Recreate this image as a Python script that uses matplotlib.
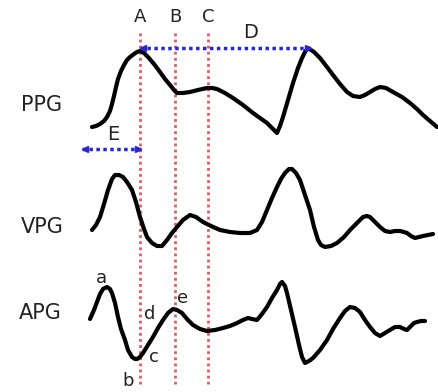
import matplotlib
matplotlib.use("Agg")
import matplotlib.pyplot as plt

# Waveform traces, in image pixel coordinates (x, y down)
PPG_X = [92, 96, 100, 104, 107, 110, 112, 114, 116, 118, 121, 124, 127, 130, 134, 137,
         140, 144, 148, 154, 160, 165, 170, 174, 177,
         183, 190, 198, 207, 212, 217, 225, 233, 243, 253, 260, 267, 272, 277,
         280, 283, 288, 293, 298, 302, 305, 308, 314, 320, 327, 333, 340, 347, 353,
         360, 365, 370, 375, 380, 386, 393, 402, 410, 417, 423, 430, 437]
PPG_Y = [127, 126, 124, 121, 117, 111, 104, 96, 87, 79, 71, 65, 60, 57, 54, 52,
         51, 53, 57, 64, 72, 79, 85, 90, 93,
         93, 92, 90, 88, 88, 89, 93, 98, 105, 113, 118, 123, 128, 133,
         126, 117, 100, 83, 68, 58, 52, 48, 52, 58, 67, 75, 84, 92, 96,
         97, 95, 92, 89, 87, 88, 92, 97, 103, 109, 115, 121, 127]

VPG_X = [92, 96, 100, 104, 108, 112, 115, 119, 123, 127, 132, 136, 140, 144, 147, 152,
         157, 162, 167, 172, 177, 183, 190, 196, 203, 211, 220, 230, 240, 250, 257,
         262, 267, 272, 277, 281, 285, 289, 292, 296, 300, 305, 310, 314, 318, 321,
         325, 331, 337, 344, 350, 357, 363, 367, 370, 375, 380, 385, 390, 395, 400,
         404, 407, 411, 415, 419, 423, 428, 433]
VPG_Y = [230, 225, 217, 204, 190, 179, 175, 175, 177, 182, 190, 202, 217, 229, 237, 243,
         246, 246, 240, 233, 227, 220, 215, 217, 222, 226, 230, 232, 233, 233, 230,
         222, 210, 198, 187, 179, 173, 169, 169, 173, 180, 195, 210, 227, 240, 245,
         247, 246, 243, 237, 230, 223, 217, 216, 217, 222, 227, 231, 232, 231, 231,
         232, 233, 236, 238, 237, 236, 235, 234]

APG_X = [90, 94, 97, 100, 103, 107, 110, 112, 115, 118, 121, 125, 128, 132, 135, 137,
         140, 143, 148, 153, 158, 163, 168, 173, 177, 182, 187, 193, 200, 207, 215,
         223, 230, 237, 243, 248, 252, 257, 262, 267, 272, 277, 280, 282, 285, 287,
         291, 295, 299, 302, 305, 309, 313, 320, 327, 333, 340, 345, 350, 355, 360,
         365, 370, 375, 380, 385, 390, 395, 400, 404, 407, 411, 414, 417, 421, 425]
APG_Y = [319, 310, 302, 294, 289, 287, 289, 293, 303, 317, 329, 340, 350, 357, 359, 359,
         357, 353, 345, 337, 328, 320, 313, 309, 310, 313, 319, 325, 329, 331, 330,
         328, 326, 323, 320, 318, 319, 320, 314, 307, 298, 290, 284, 282, 286, 293,
         310, 327, 345, 357, 363, 361, 358, 350, 340, 329, 318, 311, 307, 308, 312,
         320, 327, 333, 336, 333, 330, 327, 327, 329, 330, 326, 323, 322, 321, 321]

TRACES = [(PPG_X, PPG_Y), (VPG_X, VPG_Y), (APG_X, APG_Y)]

# Row labels and their anchor points
ROW_LABELS = ["PPG", "VPG", "APG"]
ROW_LABEL_POS = [(42, 105), (42, 227), (40, 313)]

# Vertical markers A, B, C
MARKER_LABELS = ["A", "B", "C"]
MARKER_X = [140, 175, 208]
MARKER_TOP = 33
MARKER_BOTTOM = 384

# Interval arrows D and E: (x0, x1, y)
INTERVALS = {"D": (140, 311, 48), "E": (82, 141, 149)}
INTERVAL_LABEL_POS = {"D": (251, 32), "E": (113, 134)}

# APG wave points a-e
POINT_LABELS = ["a", "b", "c", "d", "e"]
POINT_POS = [(101, 278), (128, 381), (154, 357), (150, 314), (183, 298)]

RED = "#e03a4a"
BLUE = "#2626d8"

fig = plt.figure(figsize=(4.38, 3.92), dpi=100)
ax = fig.add_axes([0, 0, 1, 1])
ax.set_xlim(0, 438)
ax.set_ylim(392, 0)
ax.axis("off")

for xs, ys in TRACES:
    ax.plot(xs, ys, color="black", lw=3, solid_joinstyle="round",
            solid_capstyle="round", zorder=3)

for lab, x in zip(MARKER_LABELS, MARKER_X):
    ax.plot([x, x], [MARKER_TOP, MARKER_BOTTOM], color=RED, lw=2,
            linestyle=(0, (1, 1.2)), alpha=0.85, zorder=2)
    ax.text(x, 17, lab, ha="center", va="center", fontsize=13, color="#222222")

for key, (x0, x1, y) in INTERVALS.items():
    ax.plot([x0, x1], [y, y], color=BLUE, lw=2.5, linestyle=(0, (1, 1)), zorder=4)
    ax.plot([x0 + 3], [y], marker="<", color=BLUE, markersize=5, zorder=5)
    ax.plot([x1 - 3], [y], marker=">", color=BLUE, markersize=5, zorder=5)
    tx, ty = INTERVAL_LABEL_POS[key]
    ax.text(tx, ty, key, ha="center", va="center", fontsize=14, color="#222222")

for lab, (x, y) in zip(ROW_LABELS, ROW_LABEL_POS):
    ax.text(x, y, lab, ha="center", va="center", fontsize=15, color="#222222")

for lab, (x, y) in zip(POINT_LABELS, POINT_POS):
    ax.text(x, y, lab, ha="center", va="center", fontsize=13, color="#222222")

fig.savefig("out.png", dpi=100)
